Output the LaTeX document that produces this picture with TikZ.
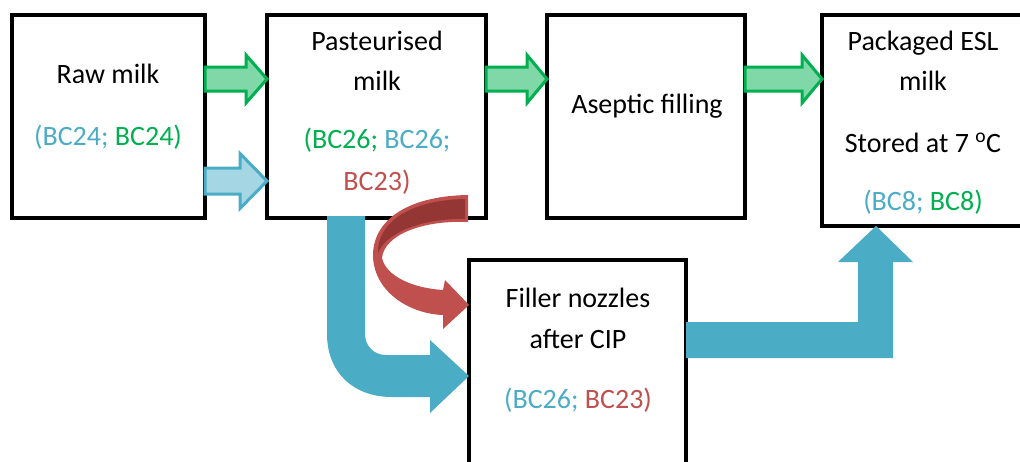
\documentclass[tikz,border=0pt]{standalone}
\usepackage{fontspec}
\setmainfont{Carlito}
\usetikzlibrary{calc}

\definecolor{txtblue}{HTML}{4BACC6}
\definecolor{txtgreen}{HTML}{00B050}
\definecolor{txtred}{HTML}{C0504D}
\definecolor{lightgreen}{HTML}{80D8A8}
\definecolor{lightblue}{HTML}{A5D6E3}
\definecolor{flowblue}{HTML}{4BACC6}
\definecolor{flowred}{HTML}{C0504D}
\definecolor{darkred}{HTML}{943634}

\tikzset{
  stepbox/.style={draw=black, line width=4pt, rectangle, inner sep=0pt, outer sep=0pt},
  label/.style={anchor=base, inner sep=0pt, font=\fontsize{28}{34}\selectfont},
  greenblock/.style={draw=txtgreen, fill=lightgreen, line width=3pt, line join=miter},
  paleblueblock/.style={draw=flowblue, fill=lightblue, line width=3pt, line join=miter},
  blueflow/.style={fill=flowblue, draw=none},
  redflow/.style={fill=flowred, draw=none},
  redback/.style={fill=darkred, draw=none}
}

\begin{document}
\begin{tikzpicture}[x=1pt, y=-1pt]
\useasboundingbox (0,0) rectangle (1020,461);
\clip (0,0) rectangle (1020,461);

% process boxes
\node[stepbox, minimum width=193pt, minimum height=203pt] (raw)  at (108.5,116.5) {};
\node[stepbox, minimum width=219pt, minimum height=203pt] (past) at (376.5,116.5) {};
\node[stepbox, minimum width=198pt, minimum height=203pt] (asep) at (646,116.5) {};
\node[stepbox, minimum width=208pt, minimum height=211pt] (pack) at (926,120.5) {};
\node[stepbox, minimum width=217pt, minimum height=210pt] (fill) at (577.5,365) {};

% green outlined block arrows along the top row
\draw[greenblock] (raw.east |- 0,67) -- (246,67) -- (246,55) -- (past.west |- 0,79)
  -- (246,103) -- (246,91) -- (raw.east |- 0,91) -- cycle;
\draw[greenblock] (past.east |- 0,67) -- (527,67) -- (527,55) -- (asep.west |- 0,79)
  -- (527,103) -- (527,91) -- (past.east |- 0,91) -- cycle;
\draw[greenblock] (asep.east |- 0,67) -- (802,67) -- (802,55) -- (pack.west |- 0,79)
  -- (802,103) -- (802,91) -- (asep.east |- 0,91) -- cycle;

% pale blue outlined block arrow
\draw[paleblueblock] (raw.east |- 0,168) -- (240,168) -- (240,153.5) -- (past.west |- 0,181)
  -- (240,208.5) -- (240,194) -- (raw.east |- 0,194) -- cycle;

% bent blue flow from pasteurised milk to filler nozzles
\fill[blueflow] (327,216) -- (327,334) .. controls (327,372) and (353,397) .. (392,397)
  -- (430,397) -- (430,413) -- (fill.west |- 0,376) -- (430,340) -- (430,355)
  -- (386,355) .. controls (374,355) and (365,346) .. (365,334) -- (365,216) -- cycle;

% right-angled blue flow from filler nozzles to packaged milk
\fill[blueflow] (fill.east |- 0,322) -- (858,322) -- (858,262) -- (838,262)
  -- (876,0 |- pack.south) -- (913,262) -- (893,262) -- (893,358) -- (fill.east |- 0,358) -- cycle;

% curved red ribbon arrow
\fill[redflow] (468,195) .. controls (405,196) and (372,222) .. (373,257)
  .. controls (375,294) and (412,314) .. (443,315) -- (443,329) -- (fill.west |- 0,305)
  -- (445,280) -- (443,290) .. controls (412,288) and (386,276) .. (382,258)
  .. controls (384,236) and (420,220) .. (468,222) -- cycle;
\fill[redback] (465,199) .. controls (408,200) and (377,224) .. (378,253)
  .. controls (385,234) and (420,218) .. (465,219) -- cycle;

% labels
\node[label] (rawA) at (108,83) {Raw milk};
\node[label] (rawB) at (108,145) {\textcolor{txtblue}{(BC24;} \textcolor{txtgreen}{BC24)}};

\node[label] (pastA) at (377,50) {Pasteurised};
\node[label] (pastB) at (377,90) {milk};
\node[label] (pastC) at (377,148) {\textcolor{txtgreen}{(BC26;} \textcolor{txtblue}{BC26;}};
\node[label] (pastD) at (377,190) {\textcolor{txtred}{BC23)}};

\node[label] (asepA) at (647,113) {Aseptic filling};

\node[label] (packA) at (923,50) {Packaged ESL};
\node[label] (packB) at (923,90) {milk};
\node[label] (packC) at (923,152) {Stored at 7 \textsuperscript{o}C};
\node[label] (packD) at (923,210) {\textcolor{txtblue}{(BC8;} \textcolor{txtgreen}{BC8)}};

\node[label] (fillA) at (578,307) {Filler nozzles};
\node[label] (fillB) at (578,348) {after CIP};
\node[label] (fillC) at (578,408) {\textcolor{txtblue}{(BC26;} \textcolor{txtred}{BC23)}};
\end{tikzpicture}
\end{document}
